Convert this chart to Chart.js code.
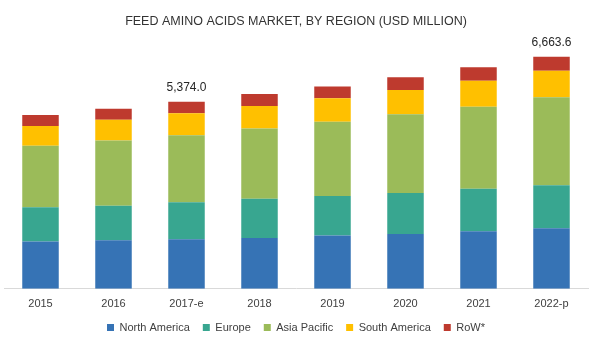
<!DOCTYPE html>
<html>
<head>
<meta charset="utf-8">
<script src="https://cdn.jsdelivr.net/npm/chart.js@4"></script>
<style>
  html, body { margin: 0; padding: 0; background: #fff; }
  #wrap { width: 600px; height: 347px; }
</style>
</head>
<body>
<div id="wrap"><canvas id="regionChart"></canvas></div>
<script>
// values (USD million)
const years = ['2015', '2016', '2017-e', '2018', '2019', '2020', '2021', '2022-p'];
const northAmerica = [1356, 1395, 1420, 1462, 1529, 1577, 1654, 1740];
const europe = [989, 989, 1067, 1125, 1134, 1173, 1221, 1231];
const asiaPacific = [1759, 1875, 1924, 2019, 2134, 2259, 2355, 2529];
const southAmerica = [568, 597, 626, 643, 673, 701, 740, 760];
const row = [317, 317, 337, 346, 337, 366, 394, 403.6];
const totalLabels = ['', '', '5,374.0', '', '', '', '', '6,663.6'];

const fontName = "'Liberation Sans', Arial, sans-serif";

// writes the total over the bars that have one
const totalsPlugin = {
  id: 'totals',
  afterDatasetsDraw(chart) {
    const ctx = chart.ctx;
    const meta = chart.getDatasetMeta(chart.data.datasets.length - 1);
    ctx.save();
    ctx.font = '12px ' + fontName;
    ctx.fillStyle = '#262626';
    ctx.textAlign = 'center';
    ctx.textBaseline = 'bottom';
    meta.data.forEach((bar, i) => {
      if (totalLabels[i]) ctx.fillText(totalLabels[i], bar.x, bar.y - 8);
    });
    ctx.restore();
  }
};

const config = {
  type: 'bar',
  data: {
    labels: years,
    datasets: [
      { label: 'North America', data: northAmerica, backgroundColor: '#3673b5' },
      { label: 'Europe', data: europe, backgroundColor: '#38a690' },
      { label: 'Asia Pacific', data: asiaPacific, backgroundColor: '#9bbb59' },
      { label: 'South America', data: southAmerica, backgroundColor: '#ffc000' },
      { label: 'RoW*', data: row, backgroundColor: '#be3a2e' }
    ]
  },
  options: {
    responsive: true,
    maintainAspectRatio: false,
    animation: false,
    layout: { padding: { left: 4, right: 12, top: 0, bottom: 4 } },
    datasets: { bar: { barPercentage: 0.5, categoryPercentage: 1, borderWidth: 0 } },
    scales: {
      x: {
        stacked: true,
        grid: { display: false, drawTicks: false },
        border: { display: true, color: '#d9d9d9', width: 1 },
        ticks: { color: '#404040', font: { family: fontName, size: 11 }, padding: 9 },
        // pull the legend up closer to the year labels
        afterFit(scale) { scale.height -= 11; }
      },
      y: {
        stacked: true,
        display: false,
        min: 0,
        max: 7000
      }
    },
    plugins: {
      title: {
        display: true,
        text: 'FEED AMINO ACIDS MARKET, BY REGION (USD MILLION)',
        color: '#333333',
        font: { family: fontName, size: 12.5, weight: 'normal' },
        padding: { top: 14.5, bottom: 15.5 }
      },
      legend: {
        position: 'bottom',
        labels: {
          color: '#404040',
          font: { family: fontName, size: 11 },
          boxWidth: 7,
          boxHeight: 7,
          padding: 13
        }
      },
      tooltip: { enabled: false }
    }
  },
  plugins: [totalsPlugin]
};

new Chart(document.querySelector('#regionChart').getContext('2d'), config);
</script>
</body>
</html>
